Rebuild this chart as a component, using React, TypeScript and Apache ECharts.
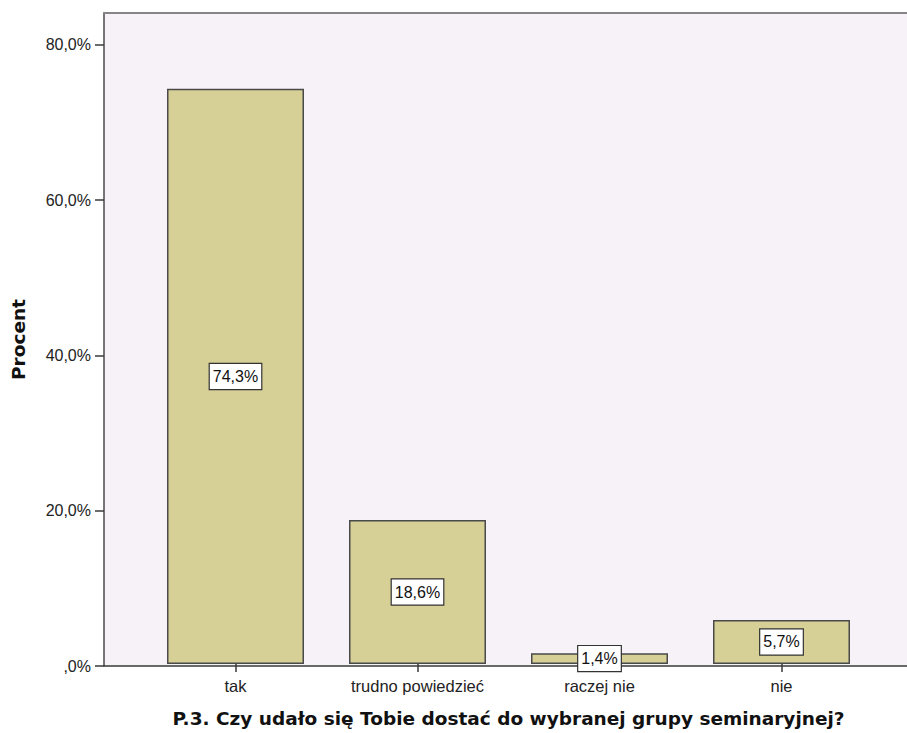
import React, { useEffect, useRef } from "react";
import * as echarts from "echarts";

const categories = ["tak", "trudno powiedzieć", "raczej nie", "nie"];
const values = [74.3, 18.6, 1.4, 5.7];
const yTicks = [0, 20, 40, 60, 80];
const yMax = 84.1;
const xTitle = "P.3. Czy udało się Tobie dostać do wybranej grupy seminaryjnej?";
const yTitle = "Procent";

const fmt = (v: number) => (v === 0 ? ",0%" : v.toFixed(1).replace(".", ",") + "%");

export default function App() {
  const ref = useRef<HTMLDivElement>(null);
  useEffect(() => {
    if (!ref.current) return;
    const chart = echarts.init(ref.current, null, { renderer: "svg" });
    const font = "'Liberation Sans', Arial, sans-serif";
    const boldFont = "'DejaVu Sans', Verdana, sans-serif";
    chart.setOption({
      animation: false,
      grid: [
        { left: 104, right: 0, top: 13, bottom: 67, show: true, backgroundColor: "#F7F2F7", borderWidth: 0 },
        { left: 144.5, width: 728, top: 13, bottom: 67 },
      ],
      xAxis: [
        {
          gridIndex: 0, type: "category", data: categories, position: "bottom",
          axisLine: { show: true, lineStyle: { color: "#3a3a3a", width: 1.5 } },
          axisTick: { show: false }, axisLabel: { show: false }, splitLine: { show: false },
        },
        {
          gridIndex: 0, type: "category", data: categories, position: "top",
          axisLine: { show: true, lineStyle: { color: "#858585", width: 2 } },
          axisTick: { show: false }, axisLabel: { show: false }, splitLine: { show: false },
        },
        {
          gridIndex: 1, type: "category", data: categories, position: "bottom",
          axisLine: { show: false },
          axisTick: { show: true, alignWithLabel: true, length: 8, lineStyle: { color: "#3a3a3a", width: 1.5 } },
          axisLabel: { margin: 13, color: "#222", fontSize: 16.5, fontFamily: font },
          name: xTitle, nameLocation: "middle", nameGap: 45,
          nameTextStyle: { color: "#111", fontSize: 18.5, fontWeight: "bold", fontFamily: boldFont },
        },
      ],
      yAxis: [
        {
          gridIndex: 0, type: "value", min: 0, max: yMax,
          axisLine: { show: true, lineStyle: { color: "#4a4a4a", width: 1.5 } },
          axisTick: { show: true, length: 9, customValues: yTicks, lineStyle: { color: "#3a3a3a", width: 1.5 } },
          axisLabel: { margin: 13, color: "#222", fontSize: 16, fontFamily: font, customValues: yTicks, formatter: fmt },
          splitLine: { show: false },
          name: yTitle, nameLocation: "middle", nameGap: 76, nameRotate: 90,
          nameTextStyle: { color: "#111", fontSize: 18.5, fontWeight: "bold", fontFamily: boldFont },
        },
        {
          gridIndex: 1, type: "value", min: 0, max: yMax, show: false, splitLine: { show: false },
        },
      ],
      series: [
        {
          type: "bar", xAxisIndex: 2, yAxisIndex: 1, data: values, barWidth: 137,
          itemStyle: { color: "#D6CF96", borderColor: "#4a4a4a", borderWidth: 1.5 },
          label: {
            show: true, position: "inside", formatter: (p: any) => fmt(p.value),
            color: "#111", fontSize: 16, fontFamily: font,
            backgroundColor: "#ffffff", borderColor: "#333", borderWidth: 1.2,
            padding: [5, 3, 4, 3],
          },
        },
      ],
    });
    return () => chart.dispose();
  }, []);
  return <div ref={ref} style={{ position: "absolute", left: 0, top: 0, width: 907, height: 733 }} />;
}
